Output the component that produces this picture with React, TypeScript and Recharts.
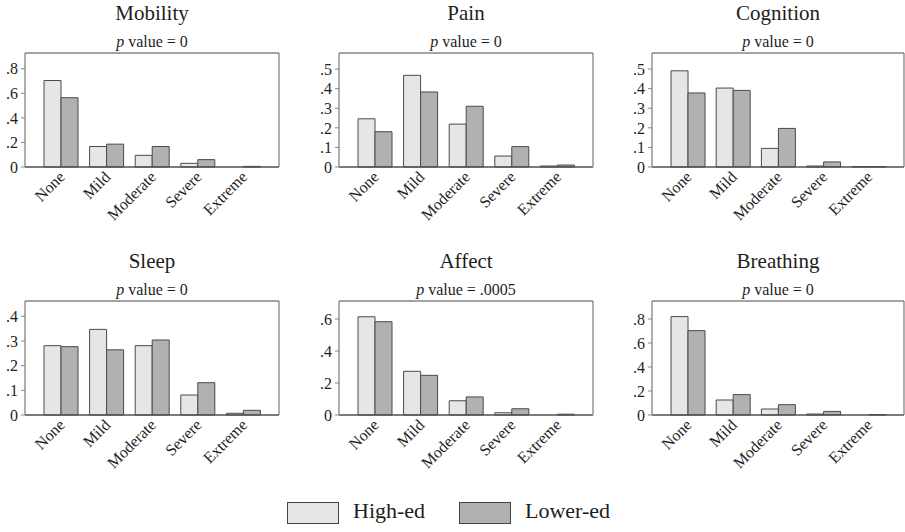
import React from 'react';
import { BarChart, Bar, XAxis, YAxis } from 'recharts';

const categories = ['None', 'Mild', 'Moderate', 'Severe', 'Extreme'];

const mobilityHigh = [0.704, 0.167, 0.095, 0.03, 0];
const mobilityLow = [0.564, 0.186, 0.167, 0.06, 0.005];
const painHigh = [0.246, 0.468, 0.219, 0.056, 0.005];
const painLow = [0.18, 0.383, 0.31, 0.104, 0.01];
const cognitionHigh = [0.491, 0.403, 0.095, 0.005, 0.002];
const cognitionLow = [0.378, 0.391, 0.197, 0.026, 0.002];
const sleepHigh = [0.281, 0.347, 0.281, 0.081, 0.007];
const sleepLow = [0.277, 0.264, 0.304, 0.131, 0.019];
const affectHigh = [0.614, 0.273, 0.089, 0.014, 0];
const affectLow = [0.583, 0.248, 0.113, 0.039, 0.005];
const breathingHigh = [0.82, 0.125, 0.05, 0.008, 0];
const breathingLow = [0.703, 0.17, 0.086, 0.03, 0.004];

const ticksBy5 = [0, 0.2, 0.4, 0.6, 0.8];
const ticksPain = [0, 0.1, 0.2, 0.3, 0.4, 0.5];
const ticksSleep = [0, 0.1, 0.2, 0.3, 0.4];
const ticksAffect = [0, 0.2, 0.4, 0.6];

const LIGHT = '#e6e6e6';
const DARK = '#b1b1b1';
const EDGE = '#4a4a4a';
const BORDER = '#858585';
const INK = '#1e1e1e';
const FONT = '"Liberation Serif", "DejaVu Serif", serif';

// plot box placement per column / row
const COLS = [
  { left: 25, width: 254 },
  { left: 339, width: 254 },
  { left: 652, width: 252 },
];
const ROW_TOP = [0, 248];
const BOX_TOP = 53;
const BOX_BOTTOM = 167;
const ROW_H = 248;
const YW = 40;
const XH = 60;

const panels = [
  { title: 'Mobility', p: '0', high: mobilityHigh, low: mobilityLow, ticks: ticksBy5, yMax: 0.928, col: 0, row: 0 },
  { title: 'Pain', p: '0', high: painHigh, low: painLow, ticks: ticksPain, yMax: 0.582, col: 1, row: 0 },
  { title: 'Cognition', p: '0', high: cognitionHigh, low: cognitionLow, ticks: ticksPain, yMax: 0.582, col: 2, row: 0 },
  { title: 'Sleep', p: '0', high: sleepHigh, low: sleepLow, ticks: ticksSleep, yMax: 0.462, col: 0, row: 1 },
  { title: 'Affect', p: '.0005', high: affectHigh, low: affectLow, ticks: ticksAffect, yMax: 0.7125, col: 1, row: 1 },
  { title: 'Breathing', p: '0', high: breathingHigh, low: breathingLow, ticks: ticksBy5, yMax: 0.95, col: 2, row: 1 },
];

const fmt = (v: number) => (v === 0 ? '0' : String(v).replace(/^0/, ''));

const XTick = ({ x, y, payload }: { x?: number; y?: number; payload?: { value: string } }) => {
  const px = (x ?? 0) + 5;
  const py = (y ?? 0) + 11;
  return (
    <text
      x={px}
      y={py}
      textAnchor="end"
      transform={`rotate(-45 ${px} ${py})`}
      fontSize={16}
      fontFamily={FONT}
      fill={INK}
    >
      {payload?.value}
    </text>
  );
};

function Panel({ panel }: { panel: (typeof panels)[number] }) {
  const col = COLS[panel.col];
  const top = ROW_TOP[panel.row];
  const data = categories.map((c, i) => ({ cat: c, high: panel.high[i], low: panel.low[i] }));
  const chartW = col.width + YW + 1;

  return (
    <>
      <div
        style={{
          position: 'absolute',
          left: col.left,
          top: top + 3,
          width: col.width,
          textAlign: 'center',
          fontSize: 21,
          lineHeight: '21px',
          fontFamily: FONT,
          color: INK,
        }}
      >
        {panel.title}
      </div>
      <div
        style={{
          position: 'absolute',
          left: col.left,
          top: top + 34,
          width: col.width,
          textAlign: 'center',
          fontSize: 16,
          lineHeight: '16px',
          fontFamily: FONT,
          color: INK,
        }}
      >
        <i>p</i> value = {panel.p}
      </div>
      <div style={{ position: 'absolute', left: col.left - YW, top }}>
        <BarChart
          width={chartW}
          height={ROW_H}
          data={data}
          margin={{ top: BOX_TOP - 1, right: 0, bottom: ROW_H - BOX_BOTTOM - XH, left: 0 }}
          barSize={17}
          barGap={0}
        >
          <XAxis
            dataKey="cat"
            height={XH}
            padding={{ left: 13, right: 13 }}
            interval={0}
            tickLine={false}
            tickSize={0}
            tickMargin={0}
            axisLine={{ stroke: '#505050', strokeWidth: 1.3 }}
            tick={<XTick />}
          />
          <XAxis
            xAxisId="top"
            orientation="top"
            dataKey="cat"
            height={1}
            tick={false}
            tickLine={false}
            axisLine={{ stroke: BORDER, strokeWidth: 1.3 }}
          />
          <YAxis
            width={YW}
            domain={[0, panel.yMax]}
            ticks={panel.ticks}
            interval={0}
            tickFormatter={fmt}
            tickSize={4}
            tickMargin={3}
            tickLine={{ stroke: BORDER }}
            axisLine={{ stroke: BORDER, strokeWidth: 1.3 }}
            tick={{ fontSize: 16, fontFamily: FONT, fill: INK }}
          />
          <YAxis
            yAxisId="right"
            orientation="right"
            width={1}
            domain={[0, 1]}
            tick={false}
            tickLine={false}
            axisLine={{ stroke: BORDER, strokeWidth: 1.3 }}
          />
          <Bar dataKey="high" fill={LIGHT} stroke={EDGE} strokeWidth={1} isAnimationActive={false} />
          <Bar dataKey="low" fill={DARK} stroke={EDGE} strokeWidth={1} isAnimationActive={false} />
        </BarChart>
      </div>
    </>
  );
}

function LegendItem({ left, fill, label }: { left: number; fill: string; label: string }) {
  return (
    <>
      <div
        style={{
          position: 'absolute',
          left,
          top: 502,
          width: 50,
          height: 20,
          background: fill,
          border: '1.5px solid #444',
        }}
      />
      <div
        style={{
          position: 'absolute',
          left: left + 66,
          top: 500,
          fontSize: 22,
          lineHeight: '22px',
          fontFamily: FONT,
          color: INK,
        }}
      >
        {label}
      </div>
    </>
  );
}

export default function App() {
  return (
    <div style={{ position: 'absolute', left: 0, top: 0, width: 905, height: 532, background: '#fff', overflow: 'hidden' }}>
      {panels.map((p) => (
        <Panel key={p.title} panel={p} />
      ))}
      <LegendItem left={287} fill={LIGHT} label="High-ed" />
      <LegendItem left={459} fill={DARK} label="Lower-ed" />
    </div>
  );
}
